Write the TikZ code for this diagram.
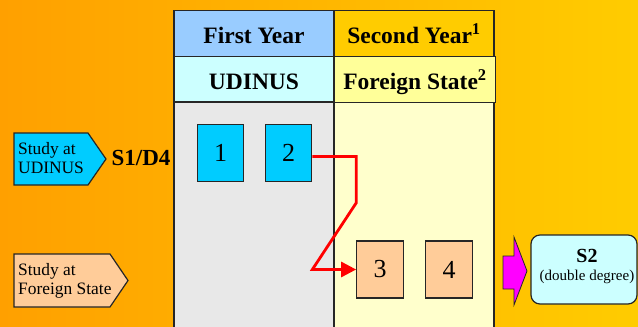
\documentclass[tikz,border=0pt]{standalone}
\usepackage{fontspec}
\setmainfont{Liberation Serif}
\usetikzlibrary{arrows.meta,calc}
\definecolor{bgL}{RGB}{255,160,0}
\definecolor{bgR}{RGB}{255,204,0}
\definecolor{hdrA}{RGB}{153,204,255}
\definecolor{hdrB}{RGB}{255,204,0}
\definecolor{subA}{RGB}{204,255,255}
\definecolor{subB}{RGB}{255,255,153}
\definecolor{bodyA}{RGB}{232,232,232}
\definecolor{bodyB}{RGB}{255,255,204}
\definecolor{cyanbox}{RGB}{0,204,255}
\definecolor{peach}{RGB}{255,204,153}
\definecolor{magentaA}{RGB}{255,0,255}
\definecolor{redline}{RGB}{255,0,0}
\begin{document}
\begin{tikzpicture}[x=1pt,y=-1pt,
  cell/.style={draw=black!85,line width=1.3pt,inner sep=0pt,minimum width=160pt,minimum height=45.5pt,text height=20.5pt,text depth=0pt,font=\fontsize{23.5}{26}\selectfont\bfseries},
  bodycell/.style={draw=black!85,line width=1.3pt},
  numbox/.style={draw=black!85,line width=1.2pt,inner sep=0pt,minimum width=46.5pt,minimum height=57pt,font=\fontsize{26}{28}\selectfont},
  signshape/.style={draw=black!85,line width=1.2pt},
  signtext/.style={inner sep=0pt,align=left,font=\fontsize{17.4}{19}\selectfont},
  conn/.style={draw=redline,line width=2.8pt,-{Triangle[length=15pt,width=15pt]}},
]
\useasboundingbox (0,0) rectangle (638,327);
\shade[left color=bgL,right color=bgR] (0,0) rectangle (638,327);

% table body
\draw[bodycell,fill=bodyA] (174,102) rectangle (334,335);
\draw[bodycell,fill=bodyB] (334,102) rectangle (494,335);

% headers
\node[cell,fill=hdrA] (fy) at (254,33.5) {First Year};
\node[cell,fill=hdrB] (sy) at (414,33.5) {Second Year\textsuperscript{1}};
\node[cell,fill=subA] (ud) at (254,79) {UDINUS};
\node[cell,fill=subB,minimum width=161pt] (fs) at (415,79.5) {Foreign State\textsuperscript{2}};

% course boxes
\node[numbox,fill=cyanbox] (b1) at (220.5,153) {1};
\node[numbox,fill=cyanbox] (b2) at (288.5,153) {2};
\node[numbox,fill=peach] (b3) at (380,269.5) {3};
\node[numbox,fill=peach] (b4) at (449,269.5) {4};

% red connector
\coordinate (r1) at ($(b2.east)+(0,3.5)$);
\coordinate (r2) at (r1 -| b3.west);
\coordinate (r3) at ($(b3.west)+(0,-66.5)$);
\coordinate (r4) at (b2.east |- b3.west);
\draw[conn] (r1) -- (r2) -- (r3) -- (r4) -- (b3.west);

% left signs
\draw[signshape,fill=cyanbox] (14,133) -- (88,133) -- (106,159) -- (88,185) -- (14,185) -- cycle;
\node[signtext,anchor=west] (su) at (18,158.5) {Study at\\UDINUS};
\node[font=\fontsize{23}{25}\selectfont\bfseries,inner sep=0pt] (sd) at (141,158) {S1/D4};
\draw[signshape,fill=peach] (14,254) -- (110,254) -- (128,280.5) -- (110,307) -- (14,307) -- cycle;
\node[signtext,anchor=west] (sf) at (18,280.5) {Study at\\Foreign State};

% magenta arrow
\draw[signshape,line width=0.8pt,fill=magentaA] (503,256) -- (514,256) -- (514,237) -- (527,271) -- (514,305) -- (514,289) -- (503,289) -- cycle;

% S2 box
\node[draw=black!85,line width=1.2pt,fill=subA,rounded corners=9pt,minimum width=106pt,minimum height=69pt,inner sep=0pt] (s2box) at (584,269.5) {};
\node[font=\fontsize{20}{22}\selectfont\bfseries,inner sep=0pt] (s2t) at (587,256) {S2};
\node[font=\fontsize{15}{17}\selectfont,inner sep=0pt] (s2d) at (587,276.5) {(double degree)};
\end{tikzpicture}
\end{document}
